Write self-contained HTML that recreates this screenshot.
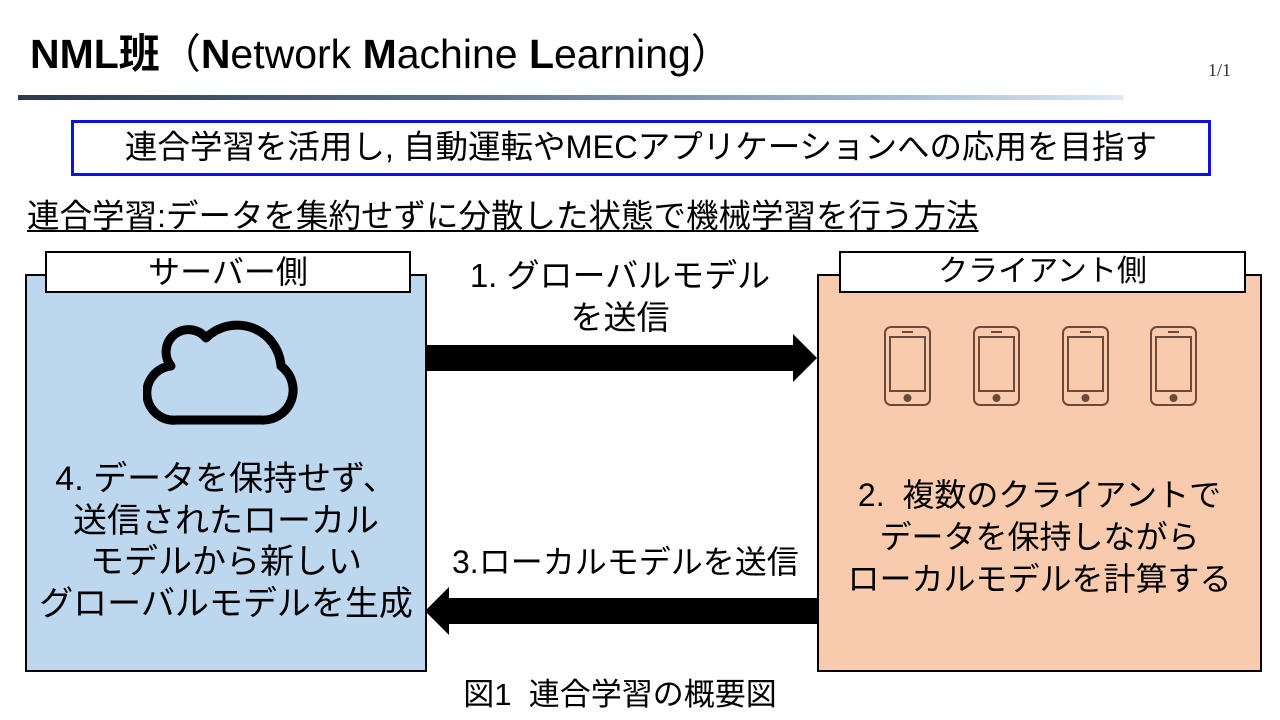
<!DOCTYPE html>
<html><head><meta charset="utf-8"><style>
body{margin:0;width:1280px;height:720px;background:#fff;position:relative;overflow:hidden;font-family:"Liberation Sans","Noto Sans CJK JP",sans-serif;color:#000}
.a{position:absolute;white-space:nowrap}
.c{text-align:center}
</style></head><body>
<div class="a" style="left:30px;top:25px;font-size:41px;line-height:58px"><b>NML班</b>（<b>N</b>etwork <b>M</b>achine <b>L</b>earning）</div>
<div class="a" style="left:1208px;top:60px;font-size:18px;font-family:'Liberation Serif',serif;color:#333">1/1</div>
<div class="a" style="left:18px;top:95px;width:1105px;height:5px;background:linear-gradient(to right,#2b3a4e,#5a6e86 40%,#a8bcd4 80%,#dce8f4)"></div>
<div class="a" style="left:71px;top:120px;width:1134px;height:50px;border:3px solid #1010e0"></div>
<div class="a c" style="left:71px;top:122px;width:1140px;font-size:32.5px;line-height:50px">連合学習を活用し, 自動運転やMECアプリケーションへの応用を目指す</div>
<div class="a" style="left:27px;top:193px;font-size:32.5px;line-height:46px;text-decoration:underline;text-decoration-thickness:2px;text-underline-offset:3px">連合学習:データを集約せずに分散した状態で機械学習を行う方法</div>

<div class="a" style="left:25px;top:274px;width:398px;height:394px;background:#bdd7ee;border:2px solid #000"></div>
<div class="a c" style="left:45px;top:251px;width:362px;height:38px;background:#fff;border:2px solid #000;font-size:32px;line-height:38px">サーバー側</div>
<svg class="a" style="left:143px;top:308px" width="170" height="125" viewBox="0 0 170 125">
<path d="M34 112 H118 A30 30 0 0 0 138 58 A44 44 0 0 0 63 30 A22 22 0 0 0 28 58 A26 26 0 0 0 34 112 Z" fill="none" stroke="#000" stroke-width="9" stroke-linejoin="round"/>
</svg>
<div class="a c" style="left:25px;top:459px;width:402px;font-size:34px;line-height:41.5px">4. データを保持せず、<br>送信されたローカル<br>モデルから新しい<br>グローバルモデルを生成</div>

<div class="a" style="left:817px;top:274px;width:441px;height:394px;background:#f8cbad;border:2px solid #000"></div>
<div class="a c" style="left:839px;top:251px;width:403px;height:38px;background:#fff;border:2px solid #000;font-size:30px;line-height:38px">クライアント側</div>
<svg class="a" style="left:880px;top:322px" width="330" height="90">
<g fill="none" stroke="#6b4a3a" stroke-width="2">
<g id="p"><rect x="5" y="5" width="45" height="78" rx="6"/><rect x="10" y="15" width="35" height="54"/><line x1="22" y1="10" x2="33" y2="10"/><circle cx="27.5" cy="76" r="3" fill="#6b4a3a"/></g>
<use href="#p" x="89"/><use href="#p" x="178"/><use href="#p" x="266"/>
</g></svg>
<div class="a c" style="left:817px;top:474px;width:445px;font-size:32px;line-height:42px">2.&nbsp; 複数のクライアントで<br>データを保持しながら<br>ローカルモデルを計算する</div>

<div class="a c" style="left:420px;top:255px;width:400px;font-size:33px;line-height:42px">1. グローバルモデル<br>を送信</div>
<svg class="a" style="left:0;top:0" width="1280" height="720">
<polygon points="425,345 793,345 793,334 817,358 793,382 793,371 425,371" fill="#000"/>
<polygon points="817,598 449,598 449,587 425,611 449,635 449,624 817,624" fill="#000"/>
</svg>
<div class="a" style="left:452px;top:541px;font-size:32px;line-height:42px">3.ローカルモデルを送信</div>
<div class="a c" style="left:420px;top:675px;width:400px;font-size:31px;line-height:40px">図1&nbsp; 連合学習の概要図</div>
</body></html>
